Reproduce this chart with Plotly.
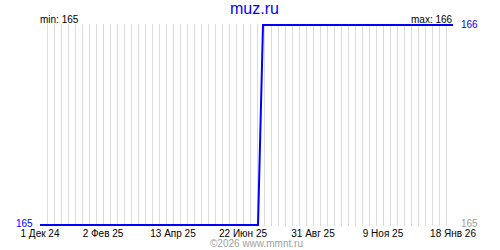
import plotly.graph_objects as go

# ---- data ----
dates = ["2024-12-01", "2025-07-07", "2025-07-12", "2026-01-18"]
values = [165, 165, 166, 166]

tick_dates = ["2024-12-01", "2025-02-02", "2025-04-13", "2025-06-22",
              "2025-08-31", "2025-11-09", "2026-01-18"]
tick_labels = ["1 Дек 24", "2 Фев 25", "13 Апр 25", "22 Июн 25",
               "31 Авг 25", "9 Ноя 25", "18 Янв 26"]

title_text = "muz.ru"
min_text = "min: 165"
max_text = "max: 166"
y_min_label = "165"
y_max_label = "166"
copyright_text = "©2026 www.mmnt.ru"

W, H = 500, 250
L, R, T, B = 39, 46, 24, 24
PW, PH = W - L - R, H - T - B


def px(x):
    return (x - L) / PW


def py(y):
    return (H - B - y) / PH


FONT = "Liberation Sans"

fig = go.Figure()
fig.add_trace(go.Scatter(
    x=dates, y=values, mode="lines",
    line=dict(color="#0000ff", width=2),
    hoverinfo="skip", showlegend=False,
))

fig.update_layout(
    width=W, height=H,
    margin=dict(l=L, r=R, t=T, b=B, pad=0),
    paper_bgcolor="white", plot_bgcolor="white",
    font=dict(family=FONT, size=10, color="black"),
    showlegend=False,
    xaxis=dict(
        range=["2024-11-30", "2026-01-19"],
        tickvals=tick_dates, ticktext=tick_labels,
        showgrid=True, gridcolor="#ffc8c8", gridwidth=1,
        ticks="", zeroline=False, showline=False,
        tickfont=dict(family=FONT, size=10, color="black"),
        ticklabelstandoff=0,
        minor=dict(dtick=7 * 86400000, tick0="2024-12-01",
                   showgrid=True, gridcolor="#dcdcdc", gridwidth=1, ticks=""),
    ),
    yaxis=dict(
        range=[165 - 1 / 200, 166 + 1 / 200],
        tickvals=[165, 166], showticklabels=False,
        showgrid=True, gridcolor="#dcdcdc", gridwidth=1,
        ticks="", zeroline=False, showline=False,
    ),
)

ann = [
    dict(text=title_text, x=px(254), y=py(9), xanchor="center", yanchor="middle",
         font=dict(family=FONT, size=16, color="#0000ff")),
    dict(text=min_text, x=px(39), y=py(19.5), xanchor="left", yanchor="middle",
         font=dict(family=FONT, size=10, color="black")),
    dict(text=max_text, x=px(454), y=py(19.5), xanchor="right", yanchor="middle",
         font=dict(family=FONT, size=10, color="black")),
    dict(text=y_max_label, x=px(460), y=py(24), xanchor="left", yanchor="middle",
         font=dict(family=FONT, size=10, color="#0000ff")),
    dict(text=y_min_label, x=px(460), y=py(223), xanchor="left", yanchor="middle",
         font=dict(family=FONT, size=10, color="#a0a0a0")),
    dict(text=y_min_label, x=px(34), y=py(223), xanchor="right", yanchor="middle",
         font=dict(family=FONT, size=10, color="#0000ff")),
    dict(text=copyright_text, x=px(256), y=py(243), xanchor="center", yanchor="middle",
         font=dict(family=FONT, size=10, color="#a0a0a0")),
]
for a in ann:
    a.update(xref="paper", yref="paper", showarrow=False, borderpad=0)
fig.update_layout(annotations=ann)

fig.write_html("out.html")
